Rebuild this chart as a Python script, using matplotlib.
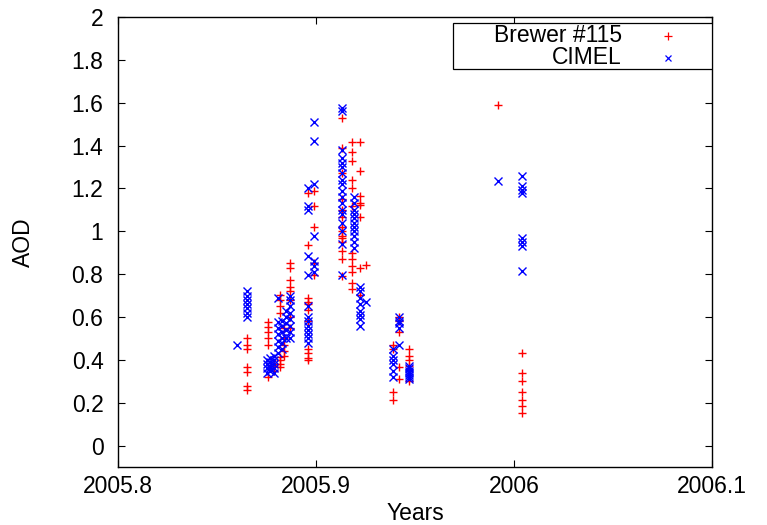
import matplotlib
matplotlib.use("Agg")
import matplotlib.pyplot as plt
from matplotlib.patches import Rectangle

plt.rcParams['font.family'] = ['Liberation Sans', 'DejaVu Sans']

# ---- data ----
brewer_days = [2005.865, 2005.876, 2005.879, 2005.882, 2005.884, 2005.887,
               2005.896, 2005.899, 2005.913, 2005.918, 2005.922, 2005.925,
               2005.939, 2005.942, 2005.947, 2005.992, 2006.004]
brewer_aod = [
    [0.26, 0.28, 0.345, 0.365, 0.45, 0.47, 0.50],
    [0.32, 0.47, 0.50, 0.53, 0.555, 0.575],
    [0.35, 0.37, 0.38],
    [0.365, 0.38, 0.40, 0.415, 0.62, 0.65, 0.68, 0.705],
    [0.42, 0.44, 0.47, 0.50, 0.55],
    [0.55, 0.60, 0.68, 0.72, 0.74, 0.775, 0.83, 0.85],
    [0.40, 0.41, 0.43, 0.45, 0.58, 0.635, 0.66, 0.67, 0.69, 0.935, 1.18],
    [0.795, 0.85, 1.02, 1.12, 1.19],
    [0.79, 0.87, 0.91, 0.95, 0.97, 0.98, 1.0, 1.02, 1.065, 1.1, 1.15, 1.27, 1.39, 1.53],
    [0.73, 0.76, 0.81, 0.84, 0.87, 0.90, 1.12, 1.2, 1.24, 1.33, 1.37, 1.415],
    [0.705, 0.83, 1.065, 1.125, 1.13, 1.165, 1.28, 1.415],
    [0.845],
    [0.215, 0.25, 0.45, 0.47],
    [0.31, 0.365, 0.53, 0.58, 0.60],
    [0.30, 0.37, 0.40, 0.42, 0.45],
    [1.59],
    [0.154, 0.187, 0.215, 0.25, 0.30, 0.34, 0.43],
]

cimel_days = [2005.860, 2005.865, 2005.875, 2005.877, 2005.879, 2005.881,
              2005.883, 2005.885, 2005.887, 2005.896, 2005.899, 2005.913,
              2005.919, 2005.922, 2005.925, 2005.939, 2005.942, 2005.947,
              2005.992, 2006.004]
cimel_aod = [
    [0.47],
    [0.60, 0.62, 0.64, 0.66, 0.68, 0.70, 0.72],
    [0.34, 0.36, 0.38, 0.40],
    [0.35, 0.36, 0.37, 0.39, 0.41],
    [0.34, 0.36, 0.38, 0.40, 0.42],
    [0.43, 0.46, 0.49, 0.52, 0.55, 0.575, 0.69],
    [0.45, 0.48, 0.50, 0.53, 0.56, 0.58],
    [0.50, 0.54, 0.57, 0.60, 0.63],
    [0.50, 0.53, 0.56, 0.59, 0.62, 0.65, 0.68, 0.70],
    [0.48, 0.50, 0.52, 0.54, 0.56, 0.58, 0.60, 0.65, 0.795, 0.885, 1.10, 1.12, 1.20],
    [0.81, 0.84, 0.86, 0.98, 1.22, 1.42, 1.51],
    [0.795, 0.94, 1.0, 1.04, 1.08, 1.10, 1.13, 1.16, 1.19, 1.22, 1.24, 1.27,
     1.30, 1.32, 1.34, 1.38, 1.56, 1.575],
    [0.92, 0.95, 0.98, 1.0, 1.02, 1.04, 1.06, 1.08, 1.10, 1.13, 1.16],
    [0.56, 0.59, 0.61, 0.63, 0.66, 0.69, 0.72, 0.74],
    [0.67],
    [0.32, 0.35, 0.38, 0.40, 0.42, 0.45],
    [0.47, 0.55, 0.57, 0.58, 0.60],
    [0.31, 0.32, 0.33, 0.34, 0.35, 0.36, 0.37],
    [1.235],
    [0.815, 0.93, 0.95, 0.97, 1.18, 1.195, 1.21, 1.26],
]

x_ticks = [2005.8, 2005.9, 2006.0, 2006.1]
x_tick_labels = ["2005.8", "2005.9", "2006", "2006.1"]
y_ticks = [0, 0.2, 0.4, 0.6, 0.8, 1.0, 1.2, 1.4, 1.6, 1.8, 2.0]
y_tick_labels = ["0", "0.2", "0.4", "0.6", "0.8", "1", "1.2", "1.4", "1.6", "1.8", "2"]
series_labels = ["Brewer #115", "CIMEL"]

# flatten
bx, by = [], []
for d, vals in zip(brewer_days, brewer_aod):
    bx += [d] * len(vals)
    by += vals
cx, cy = [], []
for d, vals in zip(cimel_days, cimel_aod):
    cx += [d] * len(vals)
    cy += vals

FS = 16.5
L, R, T, B = 118, 712, 17, 467
W, H = R - L, B - T

fig = plt.figure(figsize=(7.67, 5.25), dpi=100)
ax = fig.add_axes([L / 767, 1 - B / 525, W / 767, H / 525])

ax.plot(bx, by, linestyle='none', marker='+', color='#ff0000',
        markersize=5.6, markeredgewidth=1.0)
ax.plot(cx, cy, linestyle='none', marker='x', color='#0000ff',
        markersize=5.4, markeredgewidth=1.0)

ax.set_xlim(2005.8, 2006.1)
ax.set_ylim(-0.1, 2.0)
ax.set_xticks(x_ticks)
ax.set_xticklabels(x_tick_labels)
ax.set_yticks(y_ticks)
ax.set_yticklabels(y_tick_labels)
ax.tick_params(direction='in', length=5, width=0.8, labelsize=FS,
               top=True, right=True, colors='black')
ax.tick_params(axis='x', pad=6)
ax.tick_params(axis='y', pad=10.5)
for s in ax.spines.values():
    s.set_linewidth(1.0)
ax.set_xlabel("Years", fontsize=FS)
ax.set_ylabel("AOD", fontsize=FS)
ax.xaxis.set_label_coords(0.5, (B - 513) / H)
ax.xaxis.label.set_va('center')
ax.yaxis.set_label_coords((23 - L) / W, 0.5)
ax.yaxis.label.set_va('center')

# gnuplot-style key (text right-aligned, sample to the right)
lx0, lx1 = (453 - L) / W, 1.0
ly0, ly1 = (B - 69) / H, (B - 23) / H
ax.add_patch(Rectangle((lx0, ly0), lx1 - lx0, ly1 - ly0, transform=ax.transAxes,
                       facecolor='white', edgecolor='black', linewidth=0.9, zorder=5))
rows = [(B - 35.7) / H, (B - 58) / H]
styles = [('+', '#ff0000', 5.3), ('x', '#0000ff', 5.0)]
for lab, ry, (m, c, ms) in zip(series_labels, rows, styles):
    ax.text((622 - L) / W, ry, lab, transform=ax.transAxes, ha='right',
            va='center', fontsize=FS, zorder=6)
    ax.plot([(668 - L) / W], [ry], transform=ax.transAxes, marker=m,
            color=c, markersize=ms, markeredgewidth=0.9, linestyle='none',
            zorder=6, clip_on=False)

fig.savefig("out.png", dpi=100)
